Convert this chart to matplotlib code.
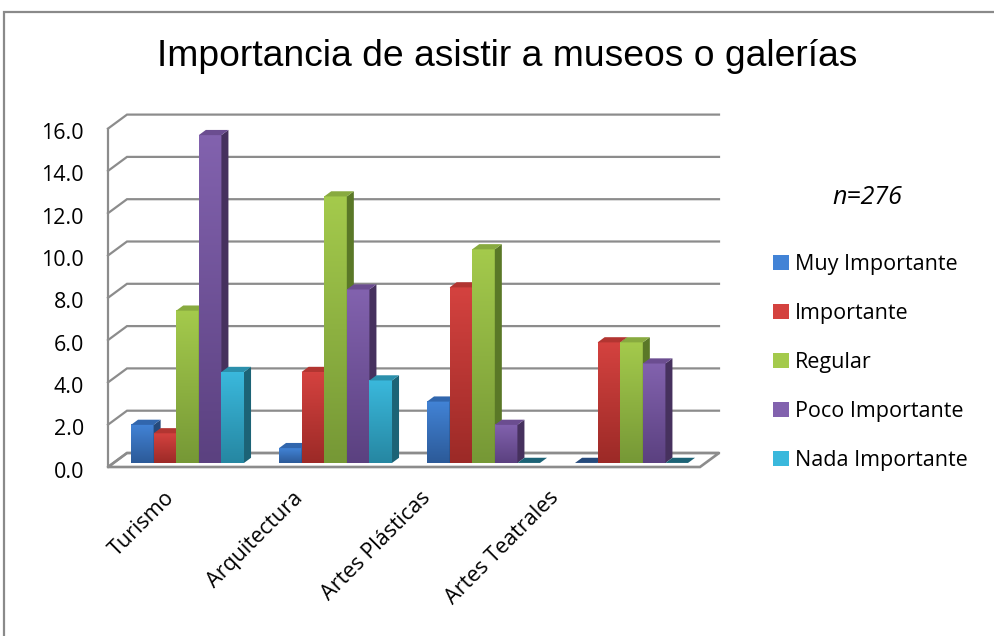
import numpy as np
import matplotlib
matplotlib.use("Agg")
import matplotlib.pyplot as plt
from matplotlib.patches import Polygon, Rectangle
from matplotlib.lines import Line2D

# ---- data -------------------------------------------------------------
categories = ["Turismo", "Arquitectura", "Artes Plásticas", "Artes Teatrales"]
series_names = ["Muy Importante", "Importante", "Regular",
                "Poco Importante", "Nada Importante"]
muy_importante = [1.8, 0.7, 2.9, 0.0]
importante = [1.4, 4.3, 8.3, 5.7]
regular = [7.2, 12.6, 10.1, 5.7]
poco_importante = [15.5, 8.2, 1.8, 4.7]
nada_importante = [4.3, 3.9, 0.0, 0.0]
y_ticks = [0, 2, 4, 6, 8, 10, 12, 14, 16]
sample_note = "n=276"
title = "Importancia de asistir a museos o galerías"

series_values = [muy_importante, importante, regular, poco_importante, nada_importante]

# face colours per series: (front light, front dark, side, top)
palette = [
    ("#4283d6", "#2c5a98", "#254a7c", "#3166ad"),
    ("#d4423f", "#9c2a27", "#7d201e", "#b23531"),
    ("#a4ca4c", "#769836", "#5a7827", "#88aa3f"),
    ("#8262ae", "#5b4180", "#46315e", "#6b4d90"),
    ("#3ab8dc", "#2687a2", "#1c6376", "#2b90ac"),
]

LABEL_FONT = "Open Sans"
LABEL_SIZE = 15.5

# ---- figure / projection ---------------------------------------------
W, H = 994, 636
fig = plt.figure(figsize=(W / 100, H / 100), dpi=100)
ax = fig.add_axes([0, 0, 1, 1])
ax.set_axis_off()

PX_CAT = 148.0      # pixels per category on the front plane
PX_VAL = 21.15      # pixels per value unit
X_ORIG, Y_ORIG = 108, 467
XLIM = (-X_ORIG / PX_CAT, (W - X_ORIG) / PX_CAT)
YLIM = (-(H - Y_ORIG) / PX_VAL, Y_ORIG / PX_VAL)

DX = 19 / PX_CAT    # full depth shift, category units
DY = 14 / PX_VAL    # full depth shift, value units


def P(x, v, d):
    """Project (category position, value, depth fraction) to axes data."""
    return (x + d * DX, v + d * DY)


ncat = len(categories)
vmax = y_ticks[-1]
grid_col = "#8c8c8c"
grid_lw = 1.6

# floor
floor = [P(0, 0, 0), P(ncat, 0, 0), P(ncat, 0, 1), P(0, 0, 1)]
ax.add_patch(Polygon(floor, closed=True, facecolor="white",
                     edgecolor=grid_col, lw=grid_lw + 0.3, zorder=1))

# back wall gridlines + side wall diagonals
for v in y_ticks:
    xs, ys = zip(P(0, v, 0), P(0, v, 1), P(ncat, v, 1))
    ax.add_line(Line2D(xs, ys, color=grid_col, lw=grid_lw, zorder=1,
                       solid_joinstyle="miter"))
    ax.annotate(f"{v:.1f}", xy=P(0, v, 0), xytext=(-24, -5),
                textcoords="offset pixels", ha="right", va="center",
                fontsize=LABEL_SIZE, family=LABEL_FONT, color="#000000")

# front vertical axis line
xs, ys = zip(P(0, 0, 0), P(0, vmax, 0))
ax.add_line(Line2D(xs, ys, color=grid_col, lw=grid_lw, zorder=1))

# ---- bars -------------------------------------------------------------
nser = len(series_values)
bar_w = 0.1527
group_w = bar_w * nser
d0, d1 = 0.29, 0.66
grad = np.linspace(0, 1, 64)[:, None]

for ci in range(ncat):
    start = ci + (1 - group_w) / 2
    for si in range(nser):
        val = series_values[si][ci]
        light, dark, side_c, top_c = palette[si]
        x0 = start + si * bar_w
        x1 = x0 + bar_w
        z = 3 + ci * 10 + si
        if val > 0:
            # front face with vertical gradient
            fx0, fy0 = P(x0, 0, d0)
            fx1, fy1 = P(x1, val, d0)
            c1 = np.array(matplotlib.colors.to_rgb(light))
            c2 = np.array(matplotlib.colors.to_rgb(dark))
            img = c1[None, None, :] * (1 - grad[:, :, None]) + c2[None, None, :] * grad[:, :, None]
            ax.imshow(img, extent=[fx0, fx1, fy0, fy1], origin="upper",
                      aspect="auto", zorder=z, interpolation="bilinear")
            # right side face
            side = [P(x1, 0, d0), P(x1, 0, d1), P(x1, val, d1), P(x1, val, d0)]
            ax.add_patch(Polygon(side, closed=True, facecolor=side_c,
                                 edgecolor="none", zorder=z))
        # top face
        top = [P(x0, val, d0), P(x1, val, d0), P(x1, val, d1), P(x0, val, d1)]
        ax.add_patch(Polygon(top, closed=True, facecolor=top_c if val > 0 else side_c,
                             edgecolor="none", zorder=z))

ax.set_xlim(*XLIM)
ax.set_ylim(*YLIM)

# category labels, rotated
label_step = 128.3 / PX_CAT
for ci, name in enumerate(categories):
    ax.annotate(name, xy=(0.5 + ci * label_step, 0), xytext=(-11, -28),
                textcoords="offset pixels", ha="right", va="center",
                rotation=45, rotation_mode="anchor",
                fontsize=LABEL_SIZE, family=LABEL_FONT, color="#000000")

# ---- legend -----------------------------------------------------------
handles = [Rectangle((0, 0), 1, 1, facecolor=p[0], edgecolor="none") for p in palette]
leg = fig.legend(handles, series_names, loc="upper left",
                 bbox_to_anchor=(773 / W, 1 - 254 / H), frameon=False,
                 prop={"family": LABEL_FONT, "size": LABEL_SIZE},
                 handlelength=0.72, handleheight=0.72, handletextpad=0.3,
                 labelspacing=1.3, borderpad=0, borderaxespad=0)

fig.text(867 / W, 1 - 198 / H, sample_note, ha="center", va="center",
         fontsize=18, family=LABEL_FONT, style="italic")

fig.text(507 / W, 1 - 57 / H, title, ha="center", va="center",
         fontsize=26.8, family="Liberation Sans")

# chart border
fig.add_artist(Rectangle((4 / W, -0.1), 1.2, 1 - 12 / H + 0.1,
                         transform=fig.transFigure, fill=False,
                         edgecolor="#8a8a8a", lw=1.6))

fig.savefig("out.png", dpi=100, facecolor="white")
